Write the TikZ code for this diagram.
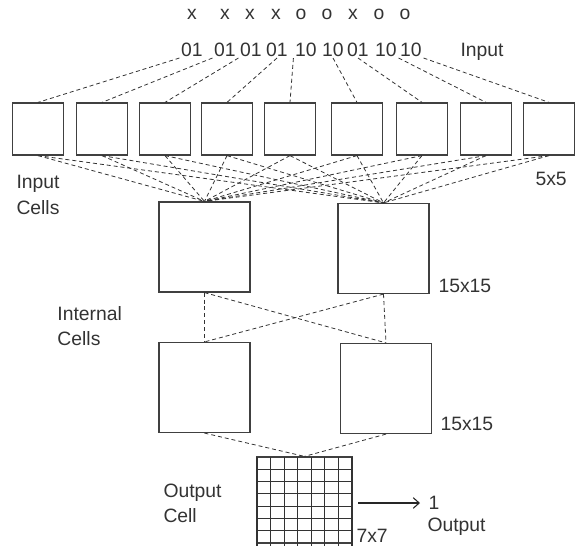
\documentclass[tikz,border=0pt]{standalone}
\usepackage{fontspec}
\setmainfont{Liberation Sans}
\usetikzlibrary{arrows.meta}

\tikzset{every picture/.style={line width=0.75pt}}
\tikzset{
  incell/.style={draw=black!75, line width=0.9pt, minimum width=38.25pt, minimum height=39pt, inner sep=0pt},
  midcell/.style={draw=black!75, line width=0.9pt, minimum width=68.25pt, minimum height=67.5pt, inner sep=0pt},
  link/.style={draw=black!80, line width=0.6pt, dash pattern={on 3pt off 2.2pt}},
  lbl/.style={inner sep=0pt, text=black!80, font=\fontsize{14.5}{19}\selectfont},
}

\begin{document}
\begin{tikzpicture}[x=0.75pt,y=0.75pt,yscale=-1,xscale=1]
	\useasboundingbox (0,0) rectangle (576,546);
	
	% symbols and bit codes
	\foreach \s/\xx [count=\i] in {x/192,x/225,x/250,x/276,o/301,o/327,x/353,o/379,o/405}
		\node [lbl, anchor=base] (sym\i) at (\xx,20) {\s};
	\foreach \s/\xx [count=\i] in {01/192,01/225,01/251,01/277,10/306,10/333,01/358,10/386,10/411}
		\node [lbl, anchor=base, inner sep=1pt] (bit\i) at (\xx,56) {\s};
	
	% input cells
	\foreach \xx [count=\i] in {38,102,165,227,290,357,422,486,549}
		\node [incell] (in\i) at (\xx,129) {};
	
	% internal cells
	\node [midcell] (hid1) at (204.5,247) {};
	\node [midcell] (hid2) at (383.5,248.5) {};
	\node [midcell] (hid3) at (204.5,387.5) {};
	\node [midcell] (hid4) at (386,388.5) {};
	
	% output cell
	\node [draw=black!75, line width=0.9pt, minimum width=71.25pt, minimum height=64.5pt, inner sep=0pt] (outcell) at (304.5,500) {};
	\foreach \k in {0,...,7}
		\draw [black!80, line width=0.8pt] (257+\k*13.571,457) -- (257+\k*13.571,546);
	\foreach \k in {1,...,6}
		\draw [black!80, line width=0.8pt] (257,457+\k*12.286) -- (352,457+\k*12.286);
	
	% bit codes to input cells
	\foreach \i/\a in {1/south west,2/south west,3/south west,4/south,5/south west,6/south,7/south,8/south east,9/south east}
		\draw [link] (bit\i.\a) -- (in\i.north);
	
	% input cells to internal cells
	\foreach \i in {1,...,9} {
		\draw [link] (in\i.south) -- (hid1.north);
		\draw [link] (in\i.south) -- (hid2.north);
	}
	
	% internal cells
	\draw [link] (hid1.south) -- (hid3.north);
	\draw [link] (hid1.south) -- (hid4.north);
	\draw [link] (hid2.south) -- (hid3.north);
	\draw [link] (hid2.south) -- (hid4.north);
	\draw [link] (hid3.south) -- (outcell.north);
	\draw [link] (hid4.south) -- (outcell.north);
	
	% output arrow
	\coordinate (arrtail) at (358,503);
	\coordinate (arrhead) at (420,503);
	\draw [black!85, line width=0.8pt, -{Straight Barb[length=4.5pt,width=8pt]}] (arrtail) -- (arrhead);
	
	% Text Node
	\node [lbl, anchor=base west] (inputlbl) at (460,56) {Input};
	\node [lbl, anchor=north west, align=left] (incellslbl) at (16,175) {Input\\Cells};
	\node [lbl, anchor=base west] (sizein) at (535,185) {5x5};
	\node [lbl, anchor=north west, align=left] (midcellslbl) at (57,306) {Internal\\Cells};
	\node [lbl, anchor=base west] (sizemid1) at (438,292) {15x15};
	\node [lbl, anchor=base west] (sizemid2) at (440,430) {15x15};
	\node [lbl, anchor=north west, align=left] (outcelllbl) at (163,483) {Output\\Cell};
	\node [lbl, anchor=base west] (sizeout) at (356,542) {7x7};
	\node [lbl, anchor=base west] (onelbl) at (428,509) {1};
	\node [lbl, anchor=base west] (outputlbl) at (427,531) {Output};
	
\end{tikzpicture}
\end{document}
